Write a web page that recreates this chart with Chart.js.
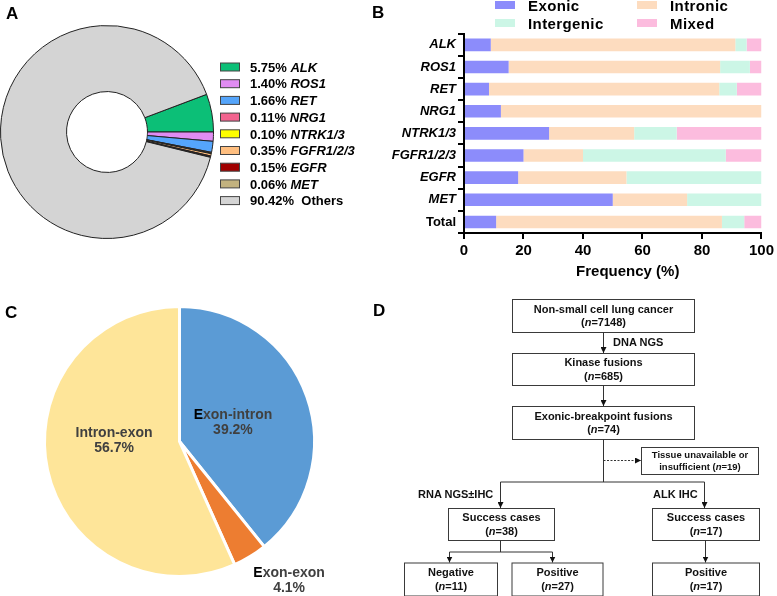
<!DOCTYPE html>
<html>
<head>
<meta charset="utf-8">
<script src="https://cdn.jsdelivr.net/npm/chart.js@4.4.0/dist/chart.umd.min.js"></script>
<style>
  body { margin: 0; background: #fff; }
  #page { position: relative; width: 777px; height: 596px; overflow: hidden; font-family: "Liberation Sans", Arial, sans-serif; }
  canvas { position: absolute; }
  #overlay { position: absolute; left: 0; top: 0; }
</style>
</head>
<body>
<div id="page">
  <canvas id="grafico-fusiones" width="214" height="214" style="left:0;top:25px"></canvas>
  <canvas id="grafico-barras" width="397" height="259" style="left:380px;top:24px"></canvas>
  <canvas id="grafico-torta" width="370" height="296" style="left:0;top:300px"></canvas>
  <svg id="overlay" width="777" height="596" xmlns="http://www.w3.org/2000/svg"></svg>
</div>
<script>
// Panel A - proporcion de fusiones por gen
const genes = ['ALK', 'ROS1', 'RET', 'NRG1', 'NTRK1/3', 'FGFR1/2/3', 'EGFR', 'MET', 'Others'];
const porcentajes = [5.75, 1.40, 1.66, 0.11, 0.10, 0.35, 0.15, 0.06, 90.42];
const coloresGenes = ['#0cbf77', '#e08cf2', '#55a5fb', '#f2648f', '#ffff00', '#ffbf80', '#a00000', '#c2b27f', '#d4d4d4'];

// Panel B - tipo de punto de corte (%)
const categorias = ['ALK', 'ROS1', 'RET', 'NRG1', 'NTRK1/3', 'FGFR1/2/3', 'EGFR', 'MET', 'Total'];
const exonico = [9.0, 15.0, 8.4, 12.4, 28.6, 20.0, 18.2, 50.0, 10.8];
const intronico = [82.2, 71.1, 77.4, 87.6, 28.6, 20.0, 36.4, 25.0, 75.9];
const intergenico = [3.8, 10.0, 5.9, 0, 14.3, 48.0, 45.4, 25.0, 7.5];
const mixto = [5.0, 3.9, 8.3, 0, 28.5, 12.0, 0, 0, 5.8];
const seriesNombres = ['Exonic', 'Intronic', 'Intergenic', 'Mixed'];
const seriesColores = ['#8c8cfb', '#fddcbf', '#ccf6e6', '#fcbcde'];

// Panel C - tipo de fusion
const tiposFusion = ['Exon-intron', 'Exon-exon', 'Intron-exon'];
const valoresFusion = [39.2, 4.1, 56.7];
const coloresFusion = ['#5b9bd5', '#ed7d31', '#fee599'];

const FUENTE = '"Liberation Sans", Arial, sans-serif';
Chart.defaults.font.family = FUENTE;
Chart.defaults.color = '#000';
Chart.defaults.animation = false;
Chart.defaults.plugins.legend.display = false;
Chart.defaults.plugins.tooltip.enabled = false;

// ----- A: dona -----
new Chart(document.getElementById('grafico-fusiones'), {
    type: 'doughnut',
    data: {
        labels: genes,
        datasets: [{
            data: porcentajes,
            backgroundColor: coloresGenes,
            borderColor: '#222',
            borderWidth: 1
        }]
    },
    options: {
        responsive: false,
        cutout: '38%',
        rotation: 90 - 3.6 * porcentajes[0]
    }
});

// ----- B: barras apiladas -----
const ejeNegro = {
    border: { color: '#000', width: 2 },
    grid: { drawOnChartArea: false, color: '#000', lineWidth: 2, tickLength: 6 }
};

new Chart(document.getElementById('grafico-barras'), {
    type: 'bar',
    data: {
        labels: categorias,
        datasets: [exonico, intronico, intergenico, mixto].map(function (valores, i) {
            return {
                label: seriesNombres[i],
                data: valores,
                backgroundColor: seriesColores[i],
                borderWidth: 0,
                barPercentage: 0.57,
                categoryPercentage: 1
            };
        })
    },
    options: {
        responsive: false,
        indexAxis: 'y',
        layout: { padding: { top: 0, right: 13, left: 0, bottom: 0 } },
        scales: {
            x: Object.assign({
                stacked: true,
                min: 0,
                max: 100,
                ticks: { stepSize: 20, padding: 3, color: '#000', font: { size: 15, weight: 'bold' } },
                // el titulo va algo corrido a la derecha en el original
                title: { display: true, text: '\u2003\u2003Frequency (%)', color: '#000', font: { size: 15, weight: 'bold' }, padding: { top: 2, bottom: 2 } },
                afterFit: function (s) { s.height = 50; }
            }, ejeNegro),
            y: Object.assign({
                stacked: true,
                ticks: {
                    padding: 2,
                    color: '#000',
                    font: function (ctx) {
                        return { size: 13, weight: 'bold', style: ctx.index === categorias.length - 1 ? 'normal' : 'italic' };
                    }
                },
                afterFit: function (s) { s.width = 84; }
            }, ejeNegro)
        }
    }
});

// ----- C: torta con etiquetas -----
// ubicacion de cada etiqueta: fraccion del radio y giro en grados
const ubicacionEtiquetas = [{ r: 0.42, giro: 0 }, { r: 1.31, giro: -6.8 }, { r: 0.485, giro: 13 }];

const etiquetasTorta = {
    id: 'etiquetasTorta',
    afterDatasetsDraw: function (chart) {
        const ctx = chart.ctx;
        const arcos = chart.getDatasetMeta(0).data;
        ctx.save();
        ctx.font = 'bold 14px ' + FUENTE;
        ctx.textBaseline = 'middle';
        ctx.textAlign = 'left';
        arcos.forEach(function (arco, i) {
            const u = ubicacionEtiquetas[i];
            const ang = (arco.startAngle + arco.endAngle) / 2 + u.giro * Math.PI / 180;
            const cx = arco.x + Math.cos(ang) * arco.outerRadius * u.r;
            const cy = arco.y + Math.sin(ang) * arco.outerRadius * u.r;
            const nombre = tiposFusion[i];
            const pct = valoresFusion[i].toFixed(1) + '%';
            const ancho = ctx.measureText(nombre).width;
            let x = cx - ancho / 2;
            if (nombre[0] === 'E') {
                ctx.fillStyle = '#000';
                ctx.fillText('E', x, cy - 7.5);
                x += ctx.measureText('E').width;
                ctx.fillStyle = '#404040';
                ctx.fillText(nombre.slice(1), x, cy - 7.5);
            } else {
                ctx.fillStyle = '#404040';
                ctx.fillText(nombre, x, cy - 7.5);
            }
            ctx.fillStyle = '#404040';
            ctx.fillText(pct, cx - ctx.measureText(pct).width / 2, cy + 8);
        });
        ctx.restore();
    }
};

new Chart(document.getElementById('grafico-torta'), {
    type: 'pie',
    data: {
        labels: tiposFusion,
        datasets: [{
            data: valoresFusion,
            backgroundColor: coloresFusion,
            borderColor: '#fff',
            borderWidth: 3
        }]
    },
    options: {
        responsive: false,
        layout: { padding: { left: 43, right: 54, top: 5, bottom: 18 } }
    },
    plugins: [etiquetasTorta]
});

// ----- leyendas, letras de panel y diagrama D -----
let svg = '';
svg += '<defs><marker id="flecha" markerWidth="6" markerHeight="6" refX="6" refY="3" orient="auto" markerUnits="userSpaceOnUse">' +
       '<path d="M0,0 L6,3 L0,6 z" fill="#111"/></marker></defs>';

// letras de panel
[['A', 6, 19], ['B', 372, 18], ['C', 5, 318], ['D', 373, 316]].forEach(function (p) {
    svg += '<text x="' + p[1] + '" y="' + p[2] + '" font-family=\'' + FUENTE + '\' font-size="17" font-weight="bold">' + p[0] + '</text>';
});

// leyenda A
genes.forEach(function (g, i) {
    const cy = 67 + i * 16.7;
    svg += '<rect x="220.5" y="' + (cy - 4) + '" width="19" height="8" fill="' + coloresGenes[i] + '" stroke="#444" stroke-width="1"/>';
    const estilo = g === 'Others' ? 'normal' : 'italic';
    svg += '<text x="250" y="' + (cy + 4.7) + '" font-family=\'' + FUENTE + '\' font-size="13" font-weight="bold" xml:space="preserve">' +
           porcentajes[i].toFixed(2) + '% ' + (g === 'Others' ? ' ' : '') +
           '<tspan font-style="' + estilo + '">' + g + '</tspan></text>';
});

// leyenda B (dos columnas)
seriesNombres.forEach(function (n, i) {
    const x = i % 2 === 0 ? 495 : 637;
    const cy = i < 2 ? 5 : 23;
    svg += '<rect x="' + x + '" y="' + (cy - 4) + '" width="20" height="8" fill="' + seriesColores[i] + '"/>';
    svg += '<text x="' + (x + 33) + '" y="' + (cy + 5.5) + '" font-family=\'' + FUENTE + '\' font-size="15" font-weight="bold" letter-spacing="0.4">' + n + '</text>';
});

// diagrama de flujo
const cajas = [
    { x: 512, y: 299, w: 182, h: 33, t: ['Non-small cell lung cancer', '(<tspan font-style="italic">n</tspan>=7148)'] },
    { x: 512, y: 353, w: 182, h: 32, t: ['Kinase fusions', '(<tspan font-style="italic">n</tspan>=685)'] },
    { x: 512, y: 406, w: 182, h: 33, t: ['Exonic-breakpoint fusions', '(<tspan font-style="italic">n</tspan>=74)'] },
    { x: 641, y: 447, w: 117, h: 27, t: ['Tissue unavailable or', 'insufficient (<tspan font-style="italic">n</tspan>=19)'], fs: 9.5 },
    { x: 448, y: 508, w: 106, h: 32, t: ['Success cases', '(<tspan font-style="italic">n</tspan>=38)'] },
    { x: 652, y: 508, w: 107, h: 32, t: ['Success cases', '(<tspan font-style="italic">n</tspan>=17)'] },
    { x: 404, y: 562.5, w: 93, h: 33, t: ['Negative', '(<tspan font-style="italic">n</tspan>=11)'] },
    { x: 511.5, y: 562.5, w: 91, h: 33, t: ['Positive', '(<tspan font-style="italic">n</tspan>=27)'] },
    { x: 652, y: 562.5, w: 107, h: 33, t: ['Positive', '(<tspan font-style="italic">n</tspan>=17)'] }
];
cajas.forEach(function (c) {
    const fs = c.fs || 11;
    const sep = fs === 11 ? 13.5 : 12;
    svg += '<rect x="' + (c.x + 0.5) + '" y="' + (c.y + 0.5) + '" width="' + c.w + '" height="' + c.h + '" fill="#fff" stroke="#3a3a3a" stroke-width="1"/>';
    const cx = c.x + c.w / 2 + 0.5;
    const cy = c.y + c.h / 2;
    c.t.forEach(function (linea, k) {
        const y = cy + (k - 0.5) * sep + fs * 0.36;
        svg += '<text x="' + cx + '" y="' + y + '" text-anchor="middle" font-family=\'' + FUENTE + '\' font-size="' + fs + '" font-weight="bold" fill="#111">' + linea + '</text>';
    });
});

const trazos = [
    [603.5, 332, 603.5, 353, true],
    [603.5, 385, 603.5, 406, true],
    [603.5, 439, 603.5, 482, false],
    [500.5, 482, 704.5, 482, false],
    [500.5, 482, 500.5, 508, true],
    [704.5, 482, 704.5, 508, true],
    [500.5, 540, 500.5, 552, false],
    [449.5, 552, 552.5, 552, false],
    [449.5, 552, 449.5, 562.5, true],
    [552.5, 552, 552.5, 562.5, true],
    [705.5, 540, 705.5, 562.5, true]
];
trazos.forEach(function (l) {
    svg += '<line x1="' + l[0] + '" y1="' + l[1] + '" x2="' + l[2] + '" y2="' + l[3] + '" stroke="#333" stroke-width="1"' +
           (l[4] ? ' marker-end="url(#flecha)"' : '') + '/>';
});
svg += '<line x1="603.5" y1="460.5" x2="641" y2="460.5" stroke="#333" stroke-width="1" stroke-dasharray="2,1.5" marker-end="url(#flecha)"/>';

[['DNA NGS', 613, 346], ['RNA NGS\u00b1IHC', 418, 498], ['ALK IHC', 653, 498]].forEach(function (e) {
    svg += '<text x="' + e[1] + '" y="' + e[2] + '" font-family=\'' + FUENTE + '\' font-size="11" font-weight="bold" fill="#111">' + e[0] + '</text>';
});

document.getElementById('overlay').innerHTML = svg;
</script>
</body>
</html>
